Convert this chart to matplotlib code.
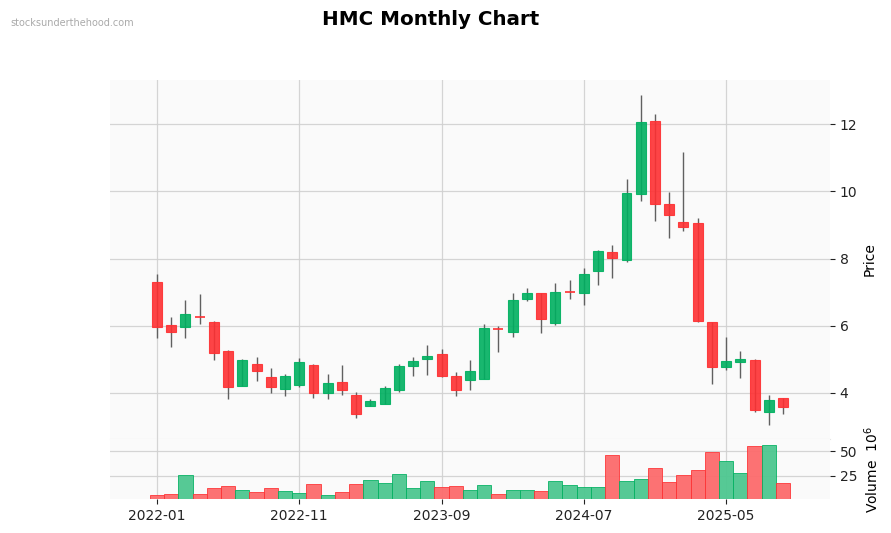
import numpy as np
import pandas as pd
import matplotlib
matplotlib.use("Agg")
import matplotlib.pyplot as plt
from matplotlib.patches import Rectangle

# monthly OHLC for HMC
months = pd.date_range("2022-01-01", periods=45, freq="MS").strftime("%Y-%m").tolist()
opens = [7.29, 6.01, 5.96, 6.28, 6.10, 5.26, 4.22, 4.87, 4.49, 4.11,
         4.25, 4.84, 3.99, 4.34, 3.94, 3.62, 3.68, 4.09, 4.80, 5.01,
         5.17, 4.52, 4.39, 4.42, 5.93, 5.81, 6.81, 6.97, 6.08, 7.02,
         6.99, 7.62, 8.21, 7.95, 9.92, 12.09, 9.64, 9.10, 9.07, 6.10,
         4.76, 4.91, 4.99, 3.44, 3.85]
highs = [7.55, 6.26, 6.78, 6.96, 6.15, 5.27, 5.00, 5.07, 4.75, 4.57,
         5.04, 4.87, 4.57, 4.84, 4.02, 3.82, 4.22, 4.87, 5.07, 5.43,
         5.31, 4.62, 4.99, 6.06, 5.98, 6.99, 7.13, 6.98, 7.28, 7.37,
         7.73, 8.27, 8.42, 10.36, 12.87, 12.32, 9.98, 11.16, 9.21, 6.11,
         5.67, 5.25, 5.00, 3.93, 3.86]
lows = [5.64, 5.36, 5.64, 6.04, 4.97, 3.82, 4.21, 4.35, 4.00, 3.91,
        4.17, 3.85, 3.82, 3.94, 3.25, 3.61, 3.66, 4.02, 4.51, 4.54,
        4.49, 3.91, 4.09, 4.41, 5.23, 5.68, 6.73, 5.80, 6.03, 6.81,
        6.63, 7.22, 7.42, 7.90, 9.72, 9.12, 8.62, 8.82, 6.12, 4.26,
        4.68, 4.44, 3.43, 3.06, 3.38]
closes = [5.96, 5.81, 6.34, 6.26, 5.18, 4.17, 4.97, 4.65, 4.17, 4.52,
          4.91, 3.99, 4.30, 4.08, 3.36, 3.76, 4.14, 4.81, 4.94, 5.10,
          4.52, 4.08, 4.64, 5.92, 5.91, 6.76, 6.97, 6.20, 7.00, 7.01,
          7.55, 8.24, 8.01, 9.96, 12.06, 9.62, 9.29, 8.94, 6.13, 4.76,
          4.96, 5.01, 3.49, 3.79, 3.59]
# volume in millions
volumes = [5.3, 6.3, 26.3, 6.3, 12.3, 14.3, 10.3, 8.3, 12.3, 9.3,
           7.3, 16.3, 5.3, 8.3, 16.3, 20.3, 17.3, 27.3, 12.3, 19.3,
           13.3, 14.3, 10.3, 15.3, 6.3, 10.3, 10.3, 9.3, 19.3, 15.3,
           13.3, 13.3, 46.3, 19.3, 22.3, 33.3, 18.3, 26.3, 31.3, 49.3,
           40.3, 28.3, 55.3, 56.3, 17.3]

UP, DOWN = "#00b060", "#fe3032"
VUP, VDOWN = "#4dc790", "#fd6b6c"
WICK = "#606060"
FACE = "#fafafa"
GRID = "#d0d0d0"

x = np.arange(len(months))
o = np.array(opens)
h = np.array(highs)
l = np.array(lows)
c = np.array(closes)
v = np.array(volumes)

fig = plt.figure(figsize=(8.91, 5.33), dpi=100)
ax = fig.add_axes([0.1235, 0.177, 0.808, 0.673])
axv = fig.add_axes([0.1235, 0.0638, 0.808, 0.112], sharex=ax)

for a in (ax, axv):
    a.set_facecolor(FACE)
    for s in a.spines.values():
        s.set_visible(False)
    a.grid(True, color=GRID, linewidth=0.9, alpha=0.9)
    a.set_axisbelow(True)
    a.yaxis.tick_right()
    a.yaxis.set_label_position("right")
    a.tick_params(colors="#222222", labelsize=10, length=3.5, width=0.8)

# thin divider between the two panels
ax.spines["bottom"].set_visible(True)
ax.spines["bottom"].set_color("#e6e6e6")
ax.spines["bottom"].set_linewidth(0.8)

# candles
width = 0.7
for i in range(len(x)):
    up = c[i] >= o[i]
    col = UP if up else DOWN
    ax.vlines(x[i], l[i], h[i], color=WICK, linewidth=1.0, zorder=2)
    bottom = min(o[i], c[i])
    height = abs(c[i] - o[i])
    if height < 0.03:
        ax.hlines(c[i], x[i] - width / 2, x[i] + width / 2, color=col, linewidth=1.2, zorder=3)
    else:
        ax.add_patch(Rectangle((x[i] - width / 2, bottom), width, height,
                               facecolor=col, edgecolor=col, linewidth=0.8, alpha=0.9, zorder=3))

ax.set_xlim(-3.3, 47.3)
ax.set_ylim(2.64, 13.32)
ax.set_yticks([4, 6, 8, 10, 12])
ax.set_ylabel("Price", fontsize=10)
ax.tick_params(axis="x", labelbottom=False, length=0)

# volume coloured by close vs previous close
prev = np.concatenate([[o[0]], c[:-1]])
vcols = [VUP if c[i] >= prev[i] else VDOWN for i in range(len(x))]
vedge = [UP if c[i] >= prev[i] else DOWN for i in range(len(x))]
axv.bar(x, v, width=1.0, color=vcols, edgecolor=vedge, linewidth=0.6, alpha=0.95, zorder=2)
axv.set_ylim(0.3 * v.min(), 1.1 * v.max())
axv.set_yticks([25, 50])
axv.set_ylabel("Volume  $10^{6}$", fontsize=10)
axv.set_xticks(x[::10])
axv.set_xticklabels([months[i] for i in x[::10]])

fig.suptitle("HMC Monthly Chart", fontsize=14.3, fontweight="bold", x=0.483, y=0.981)
fig.text(0.012, 0.952, "stocksunderthehood.com", fontsize=7, color="#aaaaaa")

fig.savefig("out.png", dpi=100)
